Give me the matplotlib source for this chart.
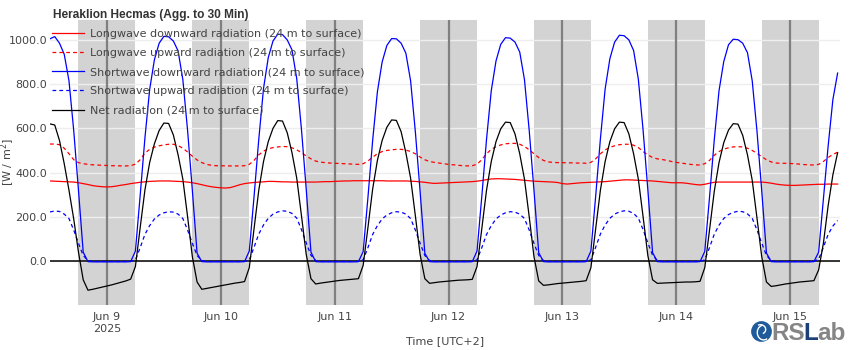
import pandas as pd
import matplotlib.pyplot as plt
from matplotlib.patches import Circle, Arc

# hourly values, UTC+2, from Jun 8 12:00 to Jun 15 10:00
lw_down = [
    362, 361, 360, 359, 358, 357, 354, 350, 346, 341, 338, 336,
    335, 336, 339, 343, 346, 350, 353, 356, 358, 360, 361, 362, 362, 362, 361, 360, 359, 357, 354, 350, 345, 340, 336, 333,
    331, 330, 332, 338, 345, 350, 353, 355, 357, 358, 360, 360, 359, 358, 358, 357, 357, 357, 357, 357, 357, 358, 359, 359,
    360, 361, 362, 362, 363, 363, 363, 363, 363, 363, 363, 362, 362, 362, 362, 362, 361, 360, 358, 356, 353, 351, 352, 353,
    354, 355, 356, 357, 358, 359, 361, 364, 368, 371, 372, 372, 371, 370, 369, 367, 365, 363, 361, 360, 359, 358, 357, 355,
    350, 348, 350, 352, 354, 355, 356, 357, 358, 359, 361, 363, 365, 367, 367, 366, 365, 364, 363, 362, 360, 358, 356, 354,
    354, 354, 352, 349, 346, 344, 347, 352, 356, 357, 357, 357, 357, 357, 357, 357, 357, 357, 357, 355, 352, 348, 345, 343,
    342, 342, 343, 344, 345, 346, 347, 347, 348, 348, 348,
]
lw_up = [
    529, 529, 526, 510, 485, 458, 445, 440, 437, 435, 434, 433,
    432, 431, 431, 430, 430, 431, 438, 458, 488, 505, 515, 521, 525, 528, 528, 522, 510, 493, 474, 457, 445, 437, 433, 431,
    431, 430, 430, 430, 430, 431, 437, 455, 480, 497, 507, 513, 516, 518, 517, 512, 503, 490, 475, 462, 452, 447, 445, 443,
    442, 441, 440, 439, 438, 437, 440, 452, 470, 485, 495, 500, 503, 505, 505, 502, 495, 485, 470, 458, 450, 446, 443, 440,
    437, 435, 433, 431, 430, 431, 438, 458, 485, 505, 517, 525, 530, 532, 532, 528, 518, 503, 485, 468, 455, 448, 446, 445,
    445, 444, 444, 443, 443, 442, 446, 462, 485, 502, 514, 521, 526, 528, 528, 524, 513, 495, 480, 468, 462, 459, 455, 450,
    446, 443, 440, 437, 435, 434, 440, 455, 478, 495, 506, 512, 516, 517, 516, 510, 500, 487, 472, 458, 448, 443, 442, 442,
    441, 440, 438, 436, 435, 434, 437, 450, 468, 482, 492,
]
sw_down = [
    1005, 1015, 985, 935, 815, 590, 320, 40, -3, -4, -4, -4,
    -4, -4, -4, -4, -4, -3, 45, 295, 555, 775, 910, 985, 1016, 1014, 995, 950, 820, 590, 320, 35, -3, -4, -4, -4,
    -4, -4, -4, -4, -4, -3, 45, 290, 550, 780, 920, 995, 1026, 1024, 1000, 955, 825, 595, 325, 40, -3, -4, -4, -4,
    -4, -4, -4, -4, -4, -3, 42, 285, 545, 765, 900, 975, 1006, 1005, 985, 940, 815, 585, 315, 35, -3, -4, -4, -4,
    -4, -4, -4, -4, -4, -3, 45, 290, 550, 770, 905, 980, 1010, 1008, 990, 945, 820, 590, 320, 38, -3, -4, -4, -4,
    -4, -4, -4, -4, -4, -3, 45, 292, 552, 778, 915, 990, 1021, 1019, 1000, 952, 822, 592, 322, 38, -3, -4, -4, -4,
    -4, -4, -4, -4, -4, -3, 43, 288, 548, 770, 902, 978, 1003, 1001, 985, 942, 815, 588, 318, 36, -3, -4, -4, -4,
    -4, -4, -4, -4, -4, -3, 40, 280, 520, 730, 850,
]
sw_up = [
    222, 226, 224, 212, 192, 140, 80, 25, 2, -2, -2, -2,
    -2, -2, -2, -2, -2, -2, 5, 60, 120, 160, 190, 208, 218, 223, 221, 212, 192, 140, 80, 25, 2, -2, -2, -2,
    -2, -2, -2, -2, -2, -2, 5, 62, 122, 163, 193, 212, 222, 227, 225, 215, 194, 142, 82, 26, 2, -2, -2, -2,
    -2, -2, -2, -2, -2, -2, 5, 60, 120, 160, 190, 208, 218, 223, 221, 212, 192, 140, 80, 25, 2, -2, -2, -2,
    -2, -2, -2, -2, -2, -2, 5, 60, 120, 160, 190, 208, 218, 223, 221, 212, 192, 140, 80, 25, 2, -2, -2, -2,
    -2, -2, -2, -2, -2, -2, 5, 62, 122, 163, 193, 212, 222, 227, 225, 215, 194, 142, 82, 26, 2, -2, -2, -2,
    -2, -2, -2, -2, -2, -2, 5, 61, 121, 162, 192, 210, 220, 225, 223, 213, 193, 141, 81, 25, 2, -2, -2, -2,
    -2, -2, -2, -2, -2, -2, 8, 62, 120, 158, 183,
]
net = [
    620, 615, 545, 440, 320, 190, 40, -85, -132, -128, -123, -118,
    -113, -108, -102, -96, -90, -82, -25, 150, 320, 445, 530, 590, 624, 622, 570, 480, 370, 200, 20, -95, -128, -124, -120, -116,
    -112, -108, -104, -100, -97, -93, -30, 145, 320, 450, 540, 600, 635, 633, 580, 490, 375, 205, 30, -80, -104, -100, -97, -94,
    -91, -88, -86, -84, -82, -80, -20, 150, 325, 455, 545, 605, 638, 636, 585, 490, 375, 205, 30, -80, -101, -98, -95, -93,
    -91, -89, -87, -86, -85, -83, -25, 145, 320, 450, 540, 598, 628, 626, 575, 485, 370, 200, 20, -90, -110, -108, -105, -102,
    -100, -98, -96, -94, -92, -89, -30, 145, 320, 450, 540, 598, 628, 626, 575, 485, 370, 200, 25, -85, -101, -100, -99, -98,
    -97, -96, -95, -95, -94, -92, -30, 140, 315, 445, 535, 592, 621, 619, 568, 480, 365, 195, 20, -95, -115, -112, -108, -104,
    -101, -98, -95, -93, -91, -89, -40, 80, 250, 390, 490,
]
times = pd.date_range('2025-06-08 12:00', periods=len(net), freq='h')

midnights = pd.to_datetime(['2025-06-09', '2025-06-10', '2025-06-11', '2025-06-12',
                            '2025-06-13', '2025-06-14', '2025-06-15'])
day_labels = ['Jun 9\n2025', 'Jun 10', 'Jun 11', 'Jun 12', 'Jun 13', 'Jun 14', 'Jun 15']
y_ticks = [0, 200, 400, 600, 800, 1000]

plt.rcParams['font.family'] = ['DejaVu Sans']
text_col = '#444444'

fig = plt.figure(figsize=(8.5, 3.5), dpi=100)
ax = fig.add_axes([50 / 850, 45 / 350, 790 / 850, 285 / 350])

half = pd.Timedelta(hours=6)
for m in midnights:
    ax.axvspan(m - half, m + half, color='#d3d3d3', lw=0, zorder=0.2)
    ax.axvline(m, color='#808080', lw=1.6, zorder=0.8)

ax.set_axisbelow(True)
ax.grid(axis='y', color='#eeeeee', lw=1.0)
ax.grid(axis='x', visible=False)
ax.axhline(0, color='black', lw=1.1, zorder=0.9)

dash = (0, (3, 2.5))
ax.plot(times, lw_down, color='red', lw=0.9, label='Longwave downward radiation (24 m to surface)')
ax.plot(times, lw_up, color='red', lw=0.9, ls=dash, label='Longwave upward radiation (24 m to surface)')
ax.plot(times, sw_down, color='blue', lw=0.9, label='Shortwave downward radiation (24 m to surface)')
ax.plot(times, sw_up, color='blue', lw=0.9, ls=dash, label='Shortwave upward radiation (24 m to surface)')
ax.plot(times, net, color='black', lw=0.9, label='Net radiation (24 m to surface)')

ax.set_xlim(pd.Timestamp('2025-06-08 12:00'), pd.Timestamp('2025-06-15 10:30'))
ax.set_ylim(-199, 1090)
ax.set_xticks(midnights)
ax.set_xticklabels(day_labels)
ax.set_yticks(y_ticks)
ax.set_yticklabels([f'{v:.1f}' for v in y_ticks])
ax.tick_params(length=0, labelsize=8, labelcolor=text_col)
ax.tick_params(axis='y', pad=2)
ax.tick_params(axis='x', pad=5)
for s in ax.spines.values():
    s.set_visible(False)

ax.set_ylabel('[W / m$^2$]', fontsize=8, color=text_col)
ax.yaxis.set_label_coords(-33 / 790, 0.5)
ax.set_xlabel('Time [UTC+2]', fontsize=8, color=text_col)
ax.xaxis.set_label_coords(0.5, -31 / 285)

fig.text(53 / 850, 1 - 15 / 350, 'Heraklion Hecmas (Agg. to 30 Min)', fontsize=8.6,
         weight='bold', color='#333333', va='center', ha='left', family='Liberation Sans')

leg = ax.legend(loc='upper left', bbox_to_anchor=(2 / 790, 1 - 9 / 285), frameon=False,
                fontsize=8, handlelength=2.9, handletextpad=0.5, labelspacing=0.82,
                borderpad=0, borderaxespad=0)
for t in leg.get_texts():
    t.set_color(text_col)

# RSLab logo, letters placed one after the other
fig.canvas.draw()
renderer = fig.canvas.get_renderer()
x_px = 771
for part, col in [('RS', '#858585'), ('L', '#1d3f78'), ('ab', '#858585')]:
    t = fig.text(x_px / 850, 1 - 333 / 350, part, fontsize=17.5, weight='bold', color=col,
                 va='center', ha='left', family='Liberation Sans')
    x_px += t.get_window_extent(renderer).width - 1
lax = fig.add_axes([751 / 850, 1 - 342 / 350, 21 / 850, 21 / 350])
lax.set_xlim(-1, 1)
lax.set_ylim(-1, 1)
lax.set_aspect('equal')
lax.axis('off')
lax.add_patch(Circle((0, 0), 0.92, color='#1f5a9a'))
lax.add_patch(Arc((0.2, -0.1), 1.2, 1.4, theta1=100, theta2=300, color='white', lw=1))
lax.add_patch(Arc((-0.1, 0.2), 1.0, 0.9, theta1=-60, theta2=120, color='white', lw=1))

fig.savefig('out.png', dpi=100, facecolor='white')
